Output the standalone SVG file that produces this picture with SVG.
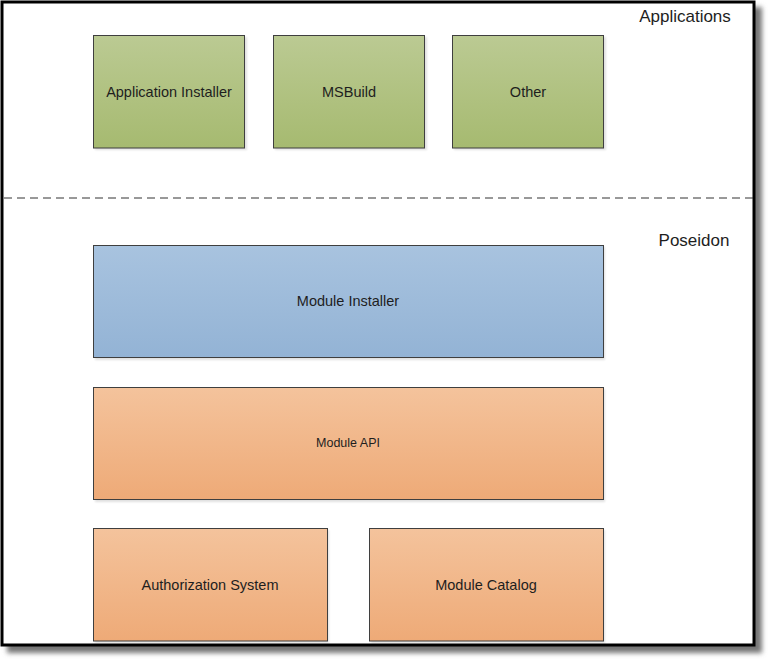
<svg xmlns="http://www.w3.org/2000/svg" width="771" height="662" viewBox="0 0 771 662">
<defs>
<linearGradient id="gGreen" x1="0" y1="0" x2="0" y2="1"><stop offset="0" stop-color="#bbca93"/><stop offset="1" stop-color="#a6ba70"/></linearGradient>
<linearGradient id="gBlue" x1="0" y1="0" x2="0" y2="1"><stop offset="0" stop-color="#a8c3df"/><stop offset="1" stop-color="#93b3d5"/></linearGradient>
<linearGradient id="gOrange" x1="0" y1="0" x2="0" y2="1"><stop offset="0" stop-color="#f4c39c"/><stop offset="1" stop-color="#eeaa77"/></linearGradient>
<filter id="blur" x="-5%" y="-5%" width="110%" height="110%"><feGaussianBlur stdDeviation="2.5"/></filter>
<filter id="bshadow" x="-10%" y="-10%" width="120%" height="120%"><feGaussianBlur stdDeviation="1"/></filter>
</defs>
<style>
.box{stroke:#3f3f3f;stroke-width:1}
.lbl{font-family:"Liberation Sans",Arial,sans-serif;font-size:14.5px;fill:#1e1e1e;text-anchor:middle;dominant-baseline:central}
.sm{font-size:12.5px}
.hdr{font-family:"Liberation Sans",Arial,sans-serif;font-size:17px;fill:#1e1e1e;text-anchor:middle;dominant-baseline:central}
.sh{fill:#000;opacity:0.12;filter:url(#bshadow)}
</style>
<rect x="0" y="0" width="771" height="662" fill="#ffffff"/>
<rect x="7" y="7" width="755" height="646" fill="#777" filter="url(#blur)"/>
<rect x="2" y="2" width="752" height="643" fill="#ffffff" stroke="#000" stroke-width="3"/>
<g id="connectors">
<line x1="4" y1="198" x2="753" y2="198" stroke="#333" stroke-width="1" stroke-dasharray="8,5"/>
</g>
<text class="hdr" x="685" y="16">Applications</text>
<text class="hdr" x="694" y="240">Poseidon</text>
<g id="app-installer">
<rect class="sh" x="95" y="37" width="152" height="113"/>
<rect class="box" x="93.5" y="35.5" width="151" height="112.5" fill="url(#gGreen)"/>
<text class="lbl" x="169" y="92">Application Installer</text>
</g>
<g id="msbuild">
<rect class="sh" x="275" y="37" width="152" height="113"/>
<rect class="box" x="273.5" y="35.5" width="151" height="112.5" fill="url(#gGreen)"/>
<text class="lbl" x="349" y="92">MSBuild</text>
</g>
<g id="other">
<rect class="sh" x="454" y="37" width="152" height="113"/>
<rect class="box" x="452.5" y="35.5" width="151" height="112.5" fill="url(#gGreen)"/>
<text class="lbl" x="528" y="92">Other</text>
</g>
<g id="module-installer">
<rect class="sh" x="95" y="247" width="510" height="113"/>
<rect class="box" x="93.5" y="245.5" width="510" height="112" fill="url(#gBlue)"/>
<text class="lbl" x="348" y="301">Module Installer</text>
</g>
<g id="module-api">
<rect class="sh" x="95" y="389" width="510" height="113"/>
<rect class="box" x="93.5" y="387.5" width="510" height="112" fill="url(#gOrange)"/>
<text class="lbl sm" x="348" y="443">Module API</text>
</g>
<g id="authorization-system">
<rect class="sh" x="95" y="530" width="234" height="113"/>
<rect class="box" x="93.5" y="528.5" width="234" height="112.5" fill="url(#gOrange)"/>
<text class="lbl" x="210" y="585">Authorization System</text>
</g>
<g id="module-catalog">
<rect class="sh" x="371" y="530" width="234" height="113"/>
<rect class="box" x="369.5" y="528.5" width="234" height="112.5" fill="url(#gOrange)"/>
<text class="lbl" x="486" y="585">Module Catalog</text>
</g>
</svg>
